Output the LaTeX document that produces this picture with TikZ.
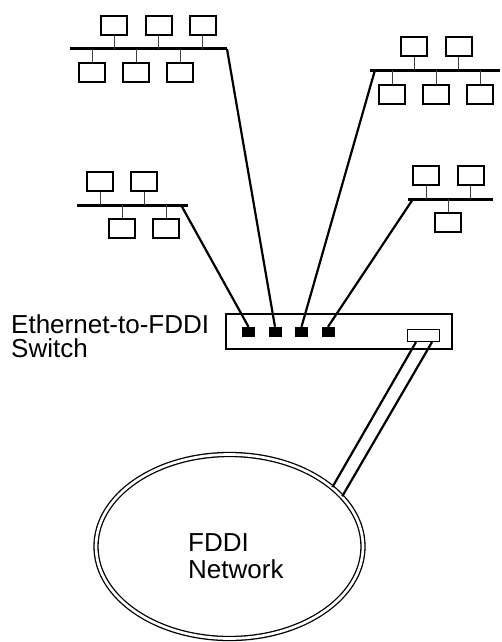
\documentclass[tikz,border=0pt]{standalone}
\usepackage{fontspec}
\setmainfont{Liberation Sans}
\usetikzlibrary{shapes.geometric}

\begin{document}
\begin{tikzpicture}[x=1pt,y=-1pt,
    station/.style={draw,line width=2pt,minimum width=26pt,minimum height=19pt,inner sep=0pt},
    bus/.style={line width=3pt},
    stem/.style={line width=1pt,black!75},
    cable/.style={line width=2.2pt},
    port/.style={fill=black,minimum width=13pt,minimum height=10pt,inner sep=0pt},
    label/.style={font=\fontsize{26}{24}\selectfont,align=left,inner sep=0pt}]
  \useasboundingbox (0,0) rectangle (501,642);

  % Ethernet segments
  \coordinate (Al) at (70,49);  \coordinate (Ar) at (227,49);
  \coordinate (Bl) at (370,70); \coordinate (Br) at (500,70); \coordinate (Bt) at (375,70);
  \coordinate (Cl) at (77,205); \coordinate (Cr) at (188,205); \coordinate (Ct) at (181,205);
  \coordinate (Dl) at (408,199); \coordinate (Dr) at (493,199); \coordinate (Dt) at (413,199);
  \foreach \s in {A,B,C,D}
    \draw[bus] (\s l) -- (\s r);

  \foreach \n/\x/\y/\s in {a1/114/25.5/A, a2/158.5/25.5/A, a3/202.5/25.5/A,
                           a4/92/72.5/A, a5/136/72.5/A, a6/180/72.5/A,
                           b1/414/46.5/B, b2/458.5/46.5/B,
                           b3/392/94/B, b4/436/94/B, b5/480/94/B,
                           c1/100/181.5/C, c2/144/181.5/C,
                           c3/122/228.5/C, c4/166/228.5/C,
                           d1/426/175.5/D, d2/470.5/175.5/D,
                           d3/448/222/D} {
    \node[station] (\n) at (\x,\y) {};
    \draw[stem] (\n) -- (\n |- \s l);
  }

  % switch
  \node[draw,line width=2.5pt,minimum width=226pt,minimum height=35pt,inner sep=0pt] (switch) at (339,331.5) {};
  \node[port] (p1) at (248.5,332) {};
  \node[port] (p2) at (275,332) {};
  \node[port] (p3) at (301.5,332) {};
  \node[port] (p4) at (328,332) {};
  \node[draw,line width=1.2pt,minimum width=32pt,minimum height=12pt,inner sep=0pt] (fp) at (423.5,335.5) {};
  \node[label,anchor=base west] (swlabel) at (11,357.5) {Ethernet-to-FDDI\\Switch};

  \draw[cable] (Ct) -- (p1.north);
  \draw[cable] (Ar) -- (p2.north);
  \draw[cable] (Bt) -- (p3.north);
  \draw[cable] (Dt) -- (p4.north);

  % FDDI ring
  \node[ellipse,draw,double,line width=1.3pt,double distance=2.7pt,
        minimum width=267pt,minimum height=184pt,inner sep=0pt] (ring) at (229.5,546.5) {};
  \node[label,font=\fontsize{26}{27}\selectfont,anchor=base west] (ringlabel) at (188,578) {FDDI\\Network};

  \draw[cable] ([xshift=-7.5pt]fp.south) -- (ring.30);
  \draw[cable] ([xshift=8.5pt]fp.south) -- (ring.24);
\end{tikzpicture}
\end{document}
